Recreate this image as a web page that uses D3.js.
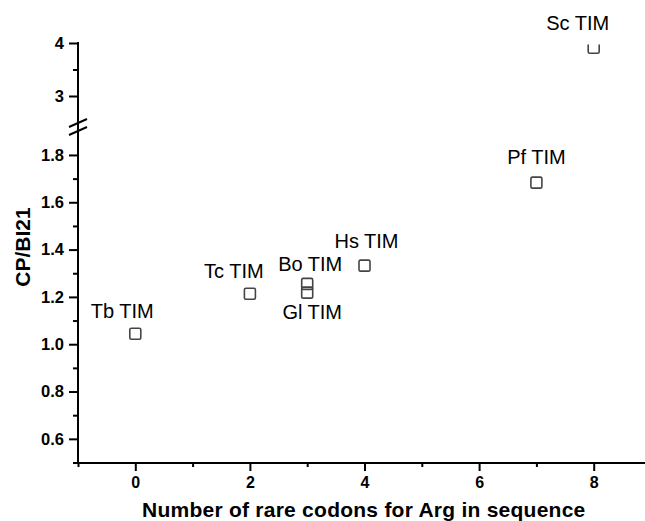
<!DOCTYPE html>
<html><head><meta charset="utf-8">
<script src="https://cdn.jsdelivr.net/npm/d3@7"></script>
<style>html,body{margin:0;padding:0;background:#fff;}svg{display:block;}</style>
</head><body>
<svg id="chart" width="645" height="521"></svg>
<script>
// ---- data ----
const labels = ["Tb TIM", "Tc TIM", "Bo TIM", "Gl TIM", "Hs TIM", "Pf TIM", "Sc TIM"];
const rareCodons = [0, 2, 3, 3, 4, 7, 8];
const cpRatio = [1.044, 1.213, 1.255, 1.218, 1.332, 1.683, 3.91];
const xTicks = [0, 2, 4, 6, 8];
const xMinorTicks = [-1, 1, 3, 5, 7];
const yTicksLower = [0.6, 0.8, 1.0, 1.2, 1.4, 1.6, 1.8];
const yMinorLower = [0.5, 0.7, 0.9, 1.1, 1.3, 1.5, 1.7];
const yTicksUpper = [3, 4];
const yMinorUpper = [3.5];

// ---- layout ----
const labelOffsets = {
  "Tb TIM": [-13, -16], "Tc TIM": [-16, -16], "Bo TIM": [3, -13],
  "Gl TIM": [5, 26], "Hs TIM": [2, -18], "Pf TIM": [0, -19], "Sc TIM": [-16, -18]
};
const svg = d3.select("#chart");
const axisX = 78, axisY = 463;
const x = d3.scaleLinear().domain([-1, 9]).range([axisX, axisX + 573]);
const yUp = d3.scaleLinear().domain([2.5, 4]).range([122.5, 43]);
const yLo = d3.scaleLinear().domain([0.5, 1.93]).range([462.5, 124.2]);
const yOf = v => v > 2.2 ? yUp(v) : yLo(v);
const font = "'Liberation Sans', Arial, Helvetica, sans-serif";

// clip paths for segments
const defs = svg.append("defs");
defs.append("clipPath").attr("id", "clipUp").append("rect")
  .attr("x", axisX).attr("y", yUp(4) + 1.6).attr("width", 645 - axisX).attr("height", yUp(2.5) - yUp(4));
defs.append("clipPath").attr("id", "clipLo").append("rect")
  .attr("x", axisX).attr("y", yLo(1.93)).attr("width", 645 - axisX).attr("height", yLo(0.5) - yLo(1.93));

// x axis
const xAxis = svg.append("g").attr("transform", `translate(0,${axisY})`);
xAxis.call(d3.axisBottom(x).tickValues(xTicks).tickSize(8).tickPadding(6).tickFormat(d3.format("d")));
xAxis.append("g").call(d3.axisBottom(x).tickValues(xMinorTicks).tickSize(4).tickFormat(""));
xAxis.selectAll(".domain").remove();
xAxis.append("line").attr("x1", axisX - 1).attr("x2", 645).attr("y1", 0).attr("y2", 0)
  .attr("stroke", "#000").attr("stroke-width", 2);
xAxis.selectAll(".tick line").attr("stroke", "#000").attr("stroke-width", 2);
xAxis.selectAll("text").attr("font-family", font).attr("font-size", 16).attr("font-weight", "bold").attr("fill", "#000");

// y axis segments
function ySeg(scale, major, minor) {
  const g = svg.append("g").attr("transform", `translate(${axisX},0)`);
  g.call(d3.axisLeft(scale).tickValues(major).tickSize(9).tickPadding(5)
    .tickFormat(d => (major === yTicksLower ? d3.format(".1f")(d) : d3.format("d")(d))));
  g.append("g").call(d3.axisLeft(scale).tickValues(minor).tickSize(5).tickFormat(""));
  g.selectAll(".domain").remove();
  g.selectAll(".tick line").attr("stroke", "#000").attr("stroke-width", 2);
  g.selectAll("text").attr("font-family", font).attr("font-size", 16.5).attr("font-weight", "bold").attr("fill", "#000");
  return g;
}
ySeg(yUp, yTicksUpper, yMinorUpper);
ySeg(yLo, yTicksLower, yMinorLower);
svg.append("line").attr("x1", axisX).attr("x2", axisX).attr("y1", yUp(4) - 1).attr("y2", axisY)
  .attr("stroke", "#000").attr("stroke-width", 2);
// break marks
[123, 131].forEach(cy => {
  svg.append("line").attr("x1", axisX - 9).attr("y1", cy + 4).attr("x2", axisX + 9).attr("y2", cy - 4)
    .attr("stroke", "#000").attr("stroke-width", 2);
});

// axis titles
svg.append("text").attr("x", 142).attr("y", 517).attr("font-family", font).attr("font-size", 21)
  .attr("letter-spacing", 0.25)
  .attr("font-weight", "bold").attr("fill", "#000").text("Number of rare codons for Arg in sequence");
svg.append("text").attr("transform", "translate(30,247) rotate(-90)").attr("text-anchor", "middle")
  .attr("font-family", font).attr("font-size", 21).attr("font-weight", "bold").attr("fill", "#000").text("CP/BI21");

// points
const pts = labels.map((l, i) => ({ label: l, x: rareCodons[i], y: cpRatio[i] }));
const ms = 11;
pts.forEach(p => {
  const up = p.y > 2.2;
  svg.append("rect").attr("clip-path", up ? "url(#clipUp)" : "url(#clipLo)")
    .attr("x", x(p.x) - ms / 2).attr("y", yOf(p.y) - ms / 2).attr("width", ms).attr("height", ms)
    .attr("rx", 1.5).attr("fill", "none").attr("stroke", "#444").attr("stroke-width", 1.6);
  const o = labelOffsets[p.label];
  svg.append("text").attr("x", x(p.x) + o[0]).attr("y", yOf(p.y) + o[1]).attr("text-anchor", "middle")
    .attr("font-family", font).attr("font-size", 20).attr("fill", "#000").text(p.label);
});
</script>
</body></html>
